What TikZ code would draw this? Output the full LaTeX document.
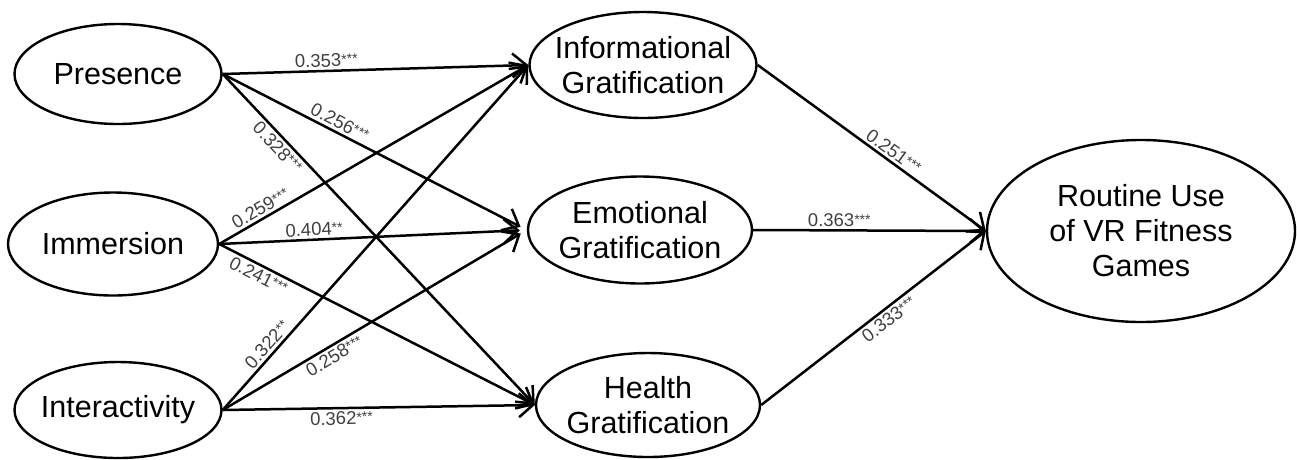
\documentclass[tikz,border=0pt]{standalone}
\usepackage{fontspec}
\setmainfont{Liberation Sans}
\usetikzlibrary{arrows.meta,shapes.geometric}
\newcommand{\st}{\raisebox{2.5pt}{\fontsize{14}{14}\selectfont ***}}
\newcommand{\sst}{\raisebox{2.5pt}{\fontsize{14}{14}\selectfont **}}
\begin{document}
\begin{tikzpicture}[x=1pt,y=-1pt,
  var/.style={ellipse, draw, line width=2.4pt, inner xsep=-12pt, inner ysep=-6pt, align=center,
    font=\fontsize{30.5}{35}\selectfont},
  path/.style={line width=2.5pt, -{Straight Barb[length=14pt,width=24pt,line width=2.5pt]}},
  coef/.style={font=\fontsize{18.5}{20}\selectfont, text=black!75, inner sep=2.5pt, sloped}]
\useasboundingbox (0,0) rectangle (1297,459);
\node[var, minimum width=207pt, minimum height=100pt] (pres) at (118,74) {Presence};
\node[var, minimum width=210pt, minimum height=103pt] (imm) at (113,244) {Immersion};
\node[var, minimum width=207pt, minimum height=96pt] (inter) at (118,410) {Interactivity};
\node[var, minimum width=227pt, minimum height=106pt] (info) at (643,65) {Informational\\Gratification};
\node[var, minimum width=224pt, minimum height=107pt] (emo) at (640,230) {Emotional\\Gratification};
\node[var, minimum width=224pt, minimum height=104pt] (health) at (648,405) {Health\\Gratification};
\node[var, minimum width=308pt, minimum height=182pt] (rout) at (1141,231) {Routine Use\\of VR Fitness\\Games};
% Presence
\draw[path] (pres.east) -- (info.west) node[coef, pos=0.34, above] {0.353\st};
\draw[path, shorten >=7pt] (pres.east) -- (emo.west) node[coef, pos=0.37, above] {0.256\st};
\draw[path] (pres.east) -- (health.west) node[coef, pos=0.2, below] {0.328\st};
% Immersion
\draw[path] (imm.east) -- (info.west) node[coef, pos=0.15, above] {0.259\st};
\draw[path, shorten >=7pt] (imm.east) -- (emo.west) node[coef, pos=0.31, above] {0.404\sst};
\draw[path] (imm.east) -- (health.west) node[coef, pos=0.14, below] {0.241\st};
% Interactivity
\draw[path] (inter.east) -- (info.west) node[coef, pos=0.17, above] {0.322\sst};
\draw[path, shorten >=7pt] (inter.east) -- (emo.west) node[coef, pos=0.35, below] {0.258\st};
\draw[path] (inter.east) -- (health.west) node[coef, pos=0.38, below] {0.362\st};
% to Routine
\draw[path] (info.east) -- (rout.west) node[coef, pos=0.57, above] {0.251\st};
\draw[path] (emo.east) -- (rout.west) node[coef, pos=0.37, above] {0.363\st};
\draw[path] (health.east) -- (rout.west) node[coef, pos=0.54, below] {0.333\st};
\end{tikzpicture}
\end{document}
